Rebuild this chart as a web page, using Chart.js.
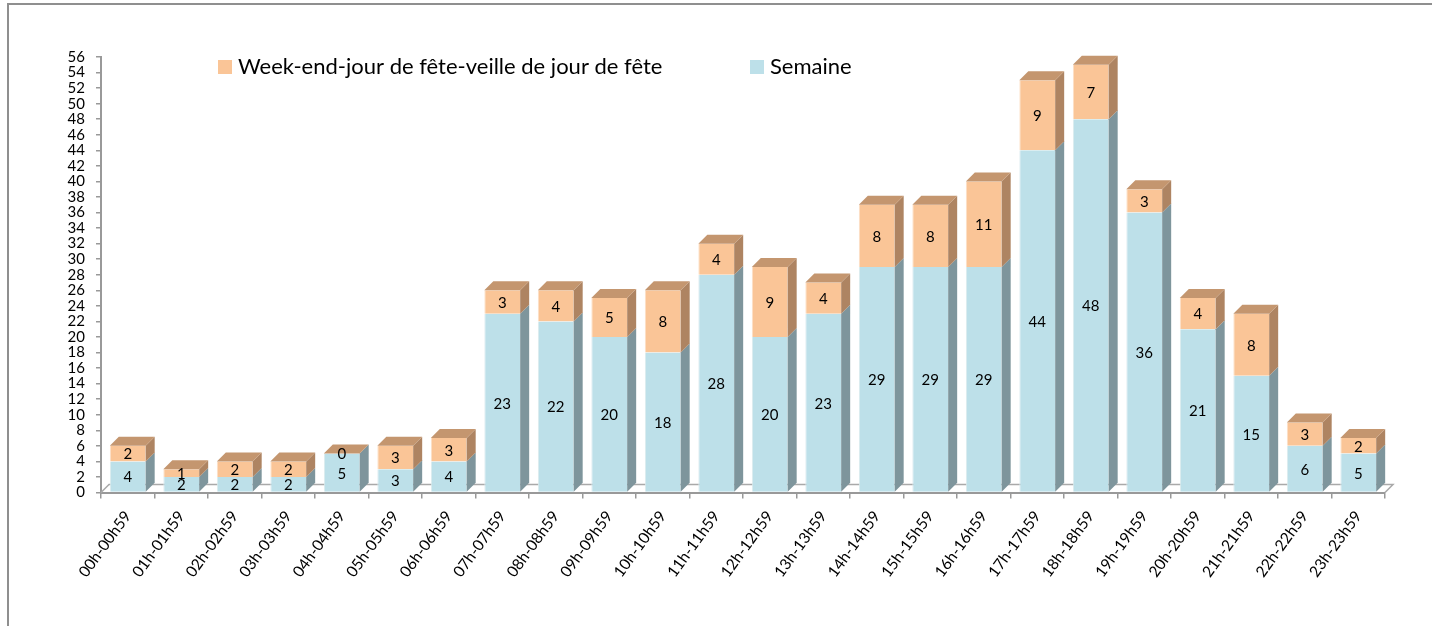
<!DOCTYPE html>
<html>
<head>
<meta charset="utf-8">
<title>Répartition horaire</title>
<script src="https://cdn.jsdelivr.net/npm/chart.js@4.4.1/dist/chart.umd.min.js"></script>
<style>
  html, body { margin: 0; padding: 0; background: #fff; }
  #zone { position: relative; width: 1432px; height: 626px; }
</style>
</head>
<body>
<div id="zone"><canvas id="grafico" width="1432" height="626"></canvas></div>
<script>
// tranches horaires (axe X)
const categories = [
  '00h-00h59', '01h-01h59', '02h-02h59', '03h-03h59', '04h-04h59', '05h-05h59',
  '06h-06h59', '07h-07h59', '08h-08h59', '09h-09h59', '10h-10h59', '11h-11h59',
  '12h-12h59', '13h-13h59', '14h-14h59', '15h-15h59', '16h-16h59', '17h-17h59',
  '18h-18h59', '19h-19h59', '20h-20h59', '21h-21h59', '22h-22h59', '23h-23h59'
];
// valeurs des deux séries (empilées)
const semaine = [4, 2, 2, 2, 5, 3, 4, 23, 22, 20, 18, 28, 20, 23, 29, 29, 29, 44, 48, 36, 21, 15, 6, 5];
const weekEnd = [2, 1, 2, 2, 0, 3, 3, 3, 4, 5, 8, 4, 9, 4, 8, 8, 11, 9, 7, 3, 4, 8, 3, 2];
// axe Y : 0 à 56 par pas de 2
const yMin = 0;
const yMax = 56;
const yPas = 2;

const libSemaine = 'Semaine';
const libWeekEnd = 'Week-end-jour de fête-veille de jour de fête';

const police = 'Lato, "Open Sans", sans-serif';
const prof = 9; // profondeur de l'effet 3D

const couleurs = {
  bleu: '#BDE0E9', bleuCote: '#7E959C',
  orange: '#FAC597', orangeCote: '#AE8462', orangeDessus: '#C4966F'
};

// dessine le cadre, le sol, les faces 3D, les étiquettes et la légende
const effet3d = {
  id: 'effet3d',
  beforeDraw(chart) {
    const ctx = chart.ctx;
    ctx.save();
    ctx.fillStyle = '#fff';
    ctx.fillRect(0, 0, chart.width, chart.height);
    ctx.strokeStyle = '#8f8f8f';
    ctx.lineWidth = 2;
    ctx.strokeRect(8, 4, 1500, 700);
    ctx.restore();
  },
  beforeDatasetsDraw(chart) {
    const { ctx, chartArea: a } = chart;
    ctx.save();
    ctx.strokeStyle = '#a9a9a9';
    ctx.lineWidth = 1.5;
    ctx.beginPath();
    ctx.moveTo(a.left, a.bottom);
    ctx.lineTo(a.left + 8, a.bottom - 8);
    ctx.lineTo(a.right + 8, a.bottom - 8);
    ctx.lineTo(a.right, a.bottom);
    ctx.stroke();
    ctx.restore();
  },
  afterDatasetsDraw(chart) {
    const ctx = chart.ctx;
    const bas = chart.getDatasetMeta(0).data;
    const haut = chart.getDatasetMeta(1).data;

    function cote(x, y1, y2, couleur) {
      ctx.fillStyle = couleur;
      ctx.beginPath();
      ctx.moveTo(x, y1);
      ctx.lineTo(x + prof, y1 - prof);
      ctx.lineTo(x + prof, y2 - prof);
      ctx.lineTo(x, y2);
      ctx.closePath();
      ctx.fill();
    }

    ctx.save();
    for (let i = 0; i < bas.length; i++) {
      const b = bas[i], h = haut[i];
      const gauche = b.x - b.width / 2;
      const droite = b.x + b.width / 2;
      cote(droite, b.base, b.y, couleurs.bleuCote);
      if (h.base !== h.y) cote(droite, h.base, h.y, couleurs.orangeCote);
      // dessus
      ctx.fillStyle = couleurs.orangeDessus;
      ctx.beginPath();
      ctx.moveTo(gauche, h.y);
      ctx.lineTo(gauche + prof, h.y - prof);
      ctx.lineTo(droite + prof, h.y - prof);
      ctx.lineTo(droite, h.y);
      ctx.closePath();
      ctx.fill();
    }

    // étiquettes de valeurs
    ctx.fillStyle = '#000';
    ctx.font = '15px ' + police;
    ctx.textAlign = 'center';
    ctx.textBaseline = 'middle';
    for (let i = 0; i < bas.length; i++) {
      const b = bas[i], h = haut[i];
      ctx.fillText(String(semaine[i]), b.x, (b.y + b.base) / 2 + 1);
      ctx.fillText(String(weekEnd[i]), h.x, (h.y + h.base) / 2 + 1);
    }
    ctx.restore();
  },
  afterDraw(chart) {
    // légende
    const ctx = chart.ctx;
    const items = [
      { texte: libWeekEnd, couleur: couleurs.orange, x: 218 },
      { texte: libSemaine, couleur: couleurs.bleu, x: 750 }
    ];
    ctx.save();
    ctx.font = '22px ' + police;
    ctx.textBaseline = 'middle';
    ctx.textAlign = 'left';
    items.forEach(it => {
      ctx.fillStyle = it.couleur;
      ctx.fillRect(it.x, 60, 14, 14);
      ctx.fillStyle = '#000';
      ctx.fillText(it.texte, it.x + 20, 67);
    });
    ctx.restore();
  }
};

const ctx = document.getElementById('grafico').getContext('2d');
new Chart(ctx, {
  type: 'bar',
  data: {
    labels: categories,
    datasets: [
      { label: libSemaine, data: semaine, backgroundColor: couleurs.bleu,
        borderColor: '#dcecef', borderWidth: { left: 1, top: 0, right: 0, bottom: 0 } },
      { label: libWeekEnd, data: weekEnd, backgroundColor: couleurs.orange,
        borderColor: '#fde0c6', borderWidth: { left: 1, top: 0, right: 0, bottom: 0 } }
    ]
  },
  options: {
    responsive: false,
    animation: false,
    layout: { padding: { top: 57, right: 47, left: 0, bottom: 0 } },
    datasets: { bar: { barPercentage: 0.67, categoryPercentage: 1 } },
    plugins: {
      legend: { display: false },
      tooltip: { enabled: false }
    },
    scales: {
      x: {
        stacked: true,
        grid: { drawOnChartArea: false, offset: true, tickLength: 6, color: '#999', lineWidth: 1.5 },
        border: { color: '#999', width: 2 },
        ticks: { autoSkip: false, minRotation: 54, maxRotation: 54, padding: 9,
                 color: '#000', font: { family: police, size: 15.5 } },
        afterFit(scale) { scale.height = 626 - 492.5; }
      },
      y: {
        stacked: true,
        min: yMin,
        max: yMax,
        grid: { drawOnChartArea: false, tickLength: 5, color: '#999', lineWidth: 1.5 },
        border: { color: '#999', width: 2 },
        ticks: { stepSize: yPas, autoSkip: false, padding: 11, color: '#000',
                 font: { family: police, size: 15 } },
        afterFit(scale) { scale.width = 101; }
      }
    }
  },
  plugins: [effet3d]
});
</script>
</body>
</html>
